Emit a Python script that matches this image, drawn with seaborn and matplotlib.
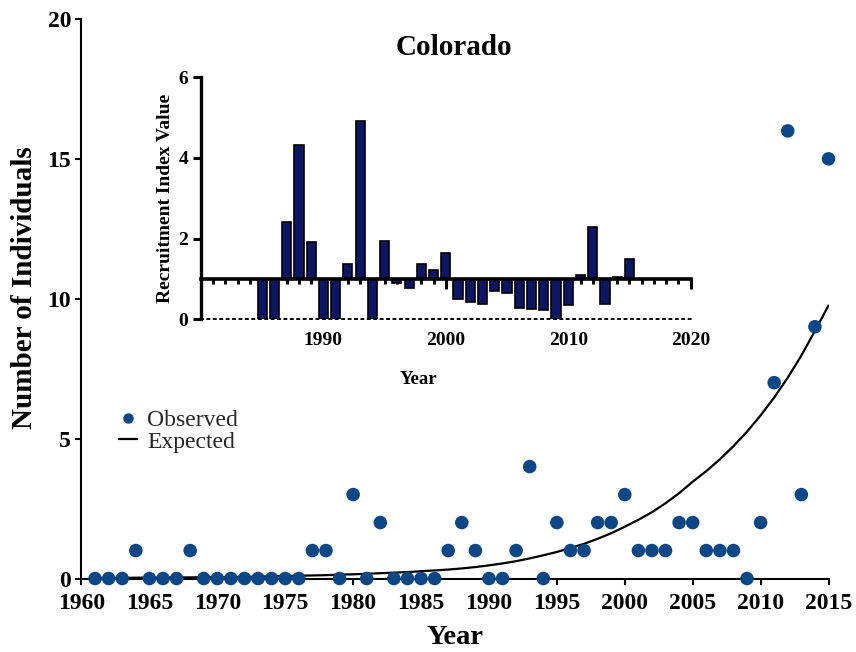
import matplotlib
matplotlib.use("Agg")
import matplotlib.pyplot as plt
import seaborn as sns
from matplotlib.lines import Line2D

# Yearly counts of individuals (observed) and the fitted expected curve
years = list(range(1961, 2016))
observed = [0, 0, 0, 1, 0, 0, 0, 1, 0, 0,
            0, 0, 0, 0, 0, 0, 1, 1, 0, 3,
            0, 2, 0, 0, 0, 0, 1, 2, 1, 0,
            0, 1, 4, 0, 2, 1, 1, 2, 2, 3,
            1, 1, 1, 2, 2, 1, 1, 1, 0, 2,
            7, 16, 3, 9, 15]
expected = [0.02, 0.02, 0.02, 0.03, 0.03, 0.03, 0.04, 0.04, 0.05, 0.05,
            0.06, 0.06, 0.07, 0.08, 0.09, 0.10, 0.11, 0.12, 0.14, 0.15,
            0.17, 0.19, 0.21, 0.23, 0.26, 0.29, 0.32, 0.36, 0.41, 0.47,
            0.54, 0.62, 0.72, 0.83, 0.95, 1.09, 1.24, 1.42, 1.62, 1.85,
            2.10, 2.37, 2.69, 3.05, 3.46, 3.84, 4.26, 4.73, 5.25, 5.83,
            6.47, 7.18, 7.97, 8.85, 9.76]

# Recruitment index by year (baseline of 1 = replacement)
rec_years = list(range(1985, 2016))
rec_index = [0, 0, 2.41, 4.32, 1.92, 0, 0, 1.37, 4.92, 0,
             1.93, 0.89, 0.78, 1.38, 1.23, 1.64, 0.49, 0.43, 0.39, 0.71,
             0.64, 0.29, 0.25, 0.23, 0, 0.35, 1.10, 2.29, 0.38, 1.04,
             1.50]
rec_baseline = 1

main_xticks = list(range(1960, 2016, 5))
main_yticks = [0, 5, 10, 15, 20]
inset_xticks = [1990, 2000, 2010, 2020]
inset_yticks = [0, 2, 4, 6]

dot_color = "#0b4787"
bar_color = "#0d1565"

sns.set_theme(style="ticks")
plt.rcParams["font.family"] = ["Liberation Serif", "DejaVu Serif"]
plt.rcParams["font.weight"] = "bold"
plt.rcParams["axes.labelweight"] = "bold"
plt.rcParams["axes.titleweight"] = "bold"

fig = plt.figure(figsize=(8.56, 6.52), dpi=100)

# ---- main panel ----
ax = fig.add_axes([0.0952, 0.1127, 0.8727, 0.8582])
sns.lineplot(x=years, y=expected, ax=ax, color="black", linewidth=1.6, zorder=2)
sns.scatterplot(x=years, y=observed, ax=ax, color=dot_color, s=95,
                edgecolor="none", zorder=3, clip_on=False)
ax.set_xlim(1960, 2015)
ax.set_ylim(0, 20)
ax.set_xticks(main_xticks)
ax.set_yticks(main_yticks)
sns.despine(ax=ax)
for side in ("left", "bottom"):
    ax.spines[side].set_linewidth(1.5)
    ax.spines[side].set_color("black")
ax.tick_params(axis="both", length=4.5, width=1.5, labelsize=17, color="black",
               labelcolor="black")
ax.tick_params(axis="x", pad=6)
ax.tick_params(axis="y", pad=3)
ax.set_xlabel("Year", fontsize=20.5, labelpad=8, color="black")
ax.set_ylabel("Number of Individuals", fontsize=21, labelpad=6.5, y=0.52, color="black")

handles = [Line2D([], [], marker="o", linestyle="none", color=dot_color, markersize=6.5),
           Line2D([], [], color="black", linewidth=1.6)]
ax.legend(handles, ["Observed", "Expected"], loc="upper left",
          bbox_to_anchor=(0.05, 0.302), frameon=False,
          prop={"family": "Liberation Serif", "weight": "normal", "size": 17},
          handlelength=0.75, handletextpad=0.45, labelspacing=0.0,
          borderpad=0, borderaxespad=0)

# ---- inset: recruitment index ----
axi = fig.add_axes([0.2348, 0.5103, 0.5721, 0.3716])
sns.barplot(x=rec_years, y=[v - rec_baseline for v in rec_index], bottom=rec_baseline,
            native_scale=True, width=0.75, color=bar_color, saturation=1,
            edgecolor="black", linewidth=1.2, ax=axi, zorder=2)
axi.set_xlim(1980, 2020)
axi.set_ylim(0, 6)
axi.spines[["top", "right"]].set_visible(False)
axi.spines["bottom"].set_position(("data", rec_baseline))
axi.spines["bottom"].set_linewidth(2.6)
axi.spines["left"].set_linewidth(2.4)
for side in ("left", "bottom"):
    axi.spines[side].set_color("black")
    axi.spines[side].set_zorder(3)
axi.set_xticks(inset_xticks)
axi.set_xticks(list(range(1981, 2020)), minor=True)
axi.set_yticks(inset_yticks)
axi.tick_params(axis="x", which="major", length=7, width=2.2, color="black",
                labelbottom=False)
axi.tick_params(axis="x", which="minor", length=3.5, width=2.2, color="black")
axi.tick_params(axis="y", length=6, width=2.2, color="black", labelsize=14,
                labelcolor="black", pad=3)
axi.set_xlabel("")
axi.set_ylabel("Recruitment Index Value", fontsize=14, labelpad=3, color="black")
axi.set_title("Colorado", fontsize=21, x=0.517, pad=16, color="black")

# dotted zero line carrying the year labels
sec = axi.secondary_xaxis("bottom")
sec.set_xticks(inset_xticks)
sec.spines["bottom"].set_linestyle((0, (1, 2.3)))
sec.spines["bottom"].set_linewidth(1.4)
sec.spines["bottom"].set_color("black")
sec.tick_params(axis="x", length=0, pad=9, labelsize=14, labelcolor="black")
sec.set_xlabel("Year", fontsize=13.5, labelpad=16, x=0.443, color="black")

fig.savefig("out.png", dpi=100)
